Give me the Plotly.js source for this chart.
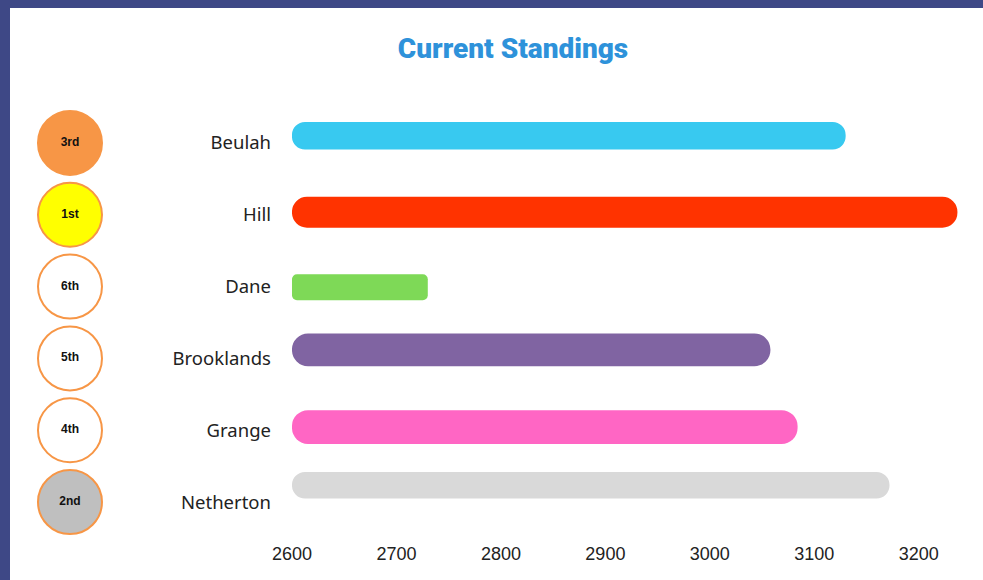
<!DOCTYPE html>
<html>
<head>
<meta charset="utf-8">
<script src="https://cdn.plot.ly/plotly-3.0.1.min.js"></script>
<style>
  html, body { margin: 0; padding: 0; background: #3E4886; width: 983px; height: 580px; overflow: hidden; }
  #chart { position: absolute; left: 10px; top: 8px; width: 973px; height: 572px; background: #ffffff; }
</style>
</head>
<body>
<div id="chart"></div>
<script>
// ---- data ----
const teams  = ['Beulah', 'Hill', 'Dane', 'Brooklands', 'Grange', 'Netherton'];
const points = [3130, 3237, 2730, 3058, 3084, 3172];
const ranks  = ['3rd', '1st', '6th', '5th', '4th', '2nd'];
const xTickValues = [2600, 2700, 2800, 2900, 3000, 3100, 3200];
const axisStart = 2600;
const axisEnd = 3250;

// ---- styles ----
const barColors   = ['#38C9F0', '#FF3300', '#7ED957', '#8064A2', '#FF66C4', '#D9D9D9'];
const barWidths   = [0.385, 0.43, 0.36, 0.455, 0.47, 0.37];
const barNudge    = [-0.10, -0.035, 0.01, -0.12, -0.045, -0.235];
const barRadii    = [13, 15, 5, 16, 16, 13];
const circleFills = ['#F79646', '#FFFF00', '#FFFFFF', '#FFFFFF', '#FFFFFF', '#BFBFBF'];

const traces = [];
teams.forEach((t, i) => {
  const v = points[i];
  const w = barWidths[i];
  traces.push({
    type: 'bar', orientation: 'h',
    y: [t], x: [v - axisStart], base: [axisStart],
    width: w, offset: barNudge[i] - w / 2,
    marker: { color: barColors[i], cornerradius: barRadii[i], line: { width: 0 } },
    hovertemplate: t + ': ' + v + '<extra></extra>', showlegend: false
  });
});

// rank circles
traces.push({
  type: 'scatter', mode: 'markers+text',
  xaxis: 'x2', yaxis: 'y',
  x: teams.map(() => 0.5), y: teams,
  text: ranks, textposition: 'middle center',
  textfont: { family: 'Liberation Sans, Arial, sans-serif', size: 12, color: '#111111', weight: 'bold' },
  marker: { size: 64, color: circleFills, line: { color: '#F79646', width: 2 } },
  cliponaxis: false, hoverinfo: 'skip', showlegend: false
});

const layout = {
  width: 973, height: 572,
  paper_bgcolor: '#ffffff', plot_bgcolor: '#ffffff',
  margin: { l: 20, r: 12, t: 99, b: 42 },
  barmode: 'overlay',
  title: {
    text: 'Current Standings',
    font: { family: 'Roboto, Arial, sans-serif', size: 28, color: '#2E92DA', weight: 900 },
    xref: 'container', x: 0.517, xanchor: 'center',
    yref: 'container', y: 0.930, yanchor: 'middle'
  },
  xaxis: {
    domain: [0.2784, 1],
    range: [axisStart, axisEnd],
    tickvals: xTickValues,
    showgrid: false, zeroline: false, showline: false, ticks: '',
    ticklabelstandoff: 3,
    tickfont: { family: 'Liberation Sans Narrow, Arial Narrow, sans-serif', size: 18, color: '#222222' }
  },
  xaxis2: {
    domain: [0, 0.085], range: [0, 1], anchor: 'y',
    visible: false, fixedrange: true
  },
  yaxis: {
    type: 'category',
    categoryorder: 'array', categoryarray: teams,
    range: [5.5, -0.5],
    showgrid: false, zeroline: false, showline: false, ticks: '',
    ticklabelstandoff: 20,
    tickfont: { family: 'Noto Sans, Open Sans, sans-serif', size: 18.5, color: '#222222' }
  },
  showlegend: false
};

Plotly.newPlot('chart', traces, layout, { displayModeBar: false, staticPlot: true });
</script>
</body>
</html>
